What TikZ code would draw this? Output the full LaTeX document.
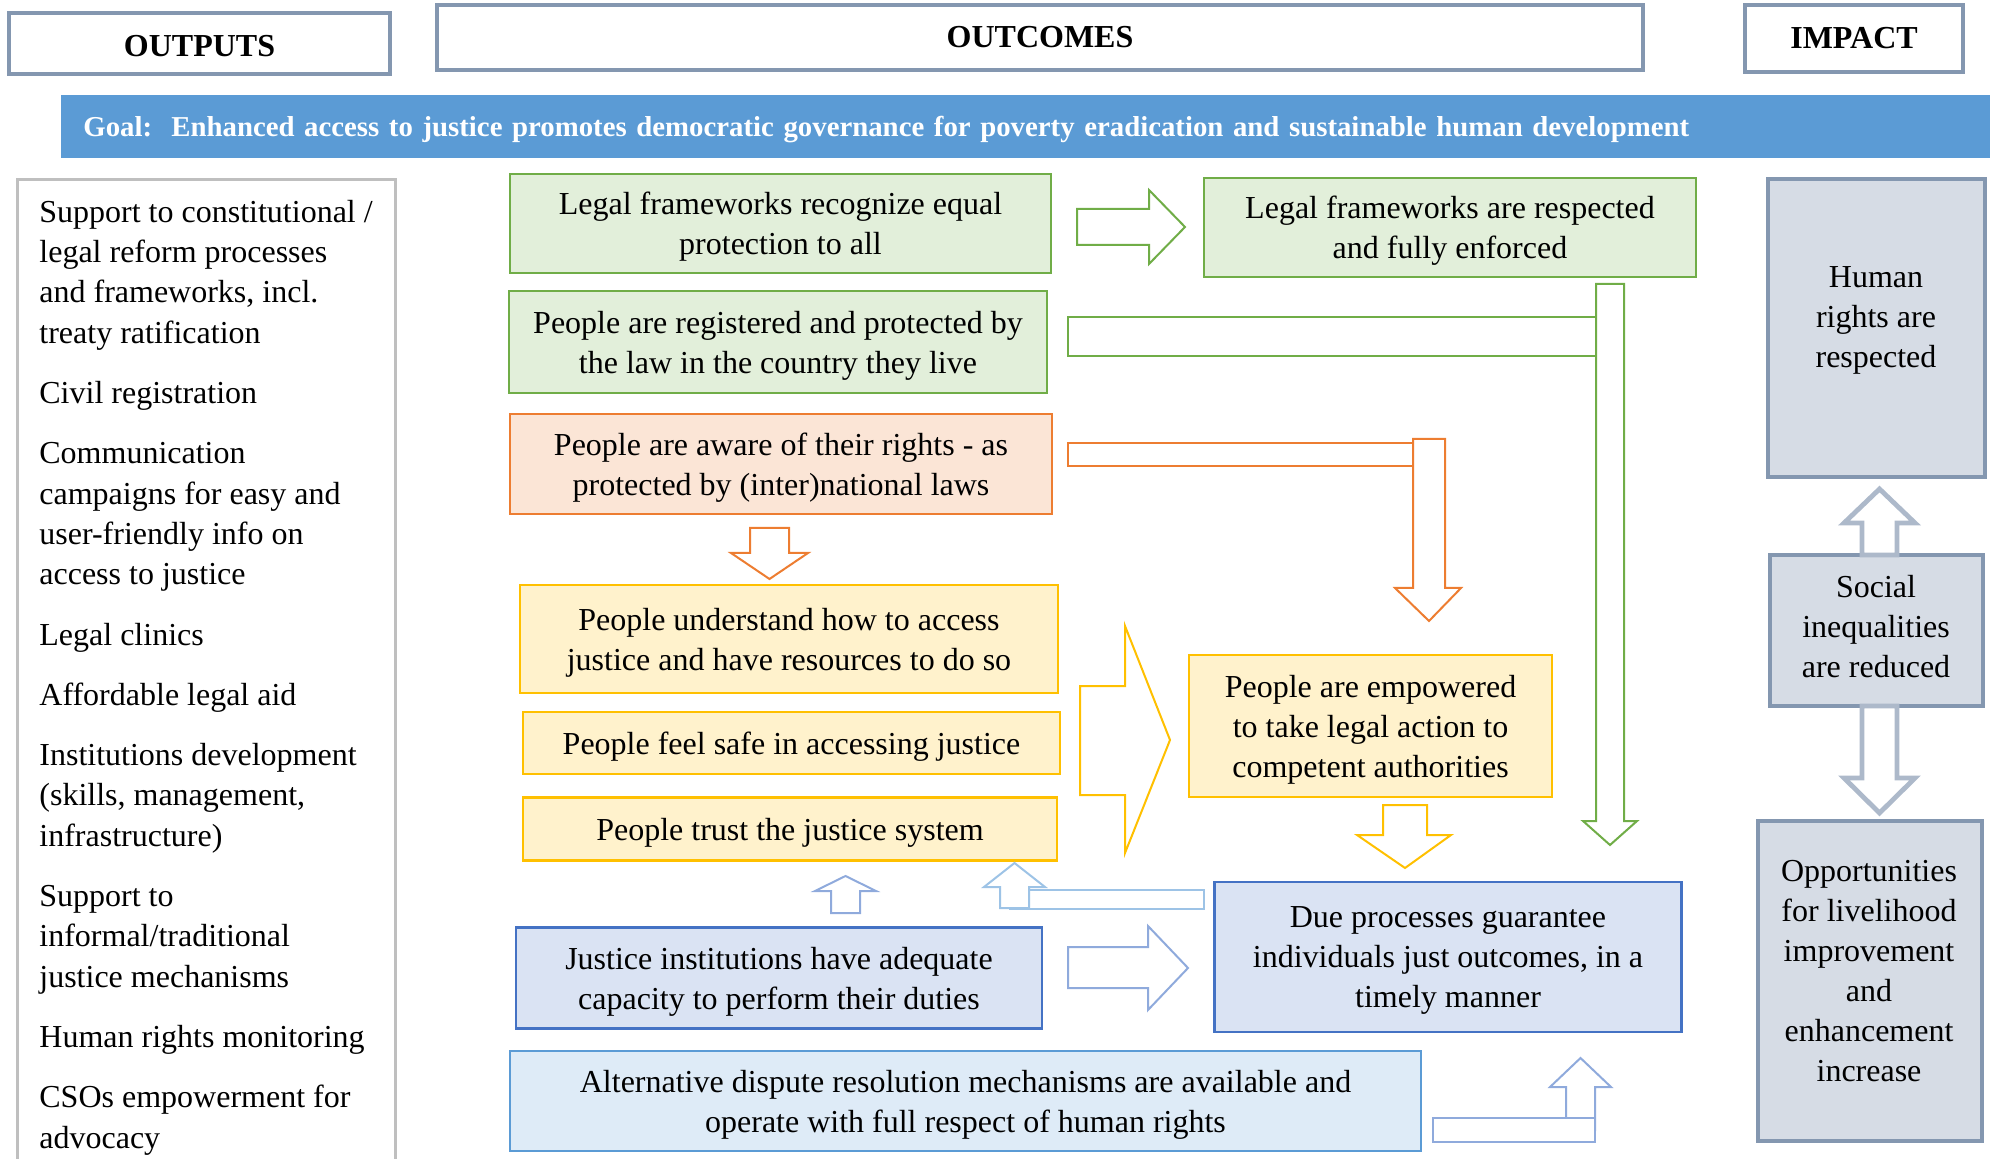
\documentclass[tikz,border=0pt]{standalone}
\usepackage{fontspec}
\setmainfont{Liberation Serif}
\definecolor{hdr}{HTML}{8497B0}
\definecolor{goalc}{HTML}{5B9BD5}
\definecolor{grnD}{HTML}{70AD47}
\definecolor{grnL}{HTML}{E2EFDA}
\definecolor{orD}{HTML}{ED7D31}
\definecolor{orL}{HTML}{FBE5D6}
\definecolor{ylD}{HTML}{FFC000}
\definecolor{ylL}{HTML}{FFF2CC}
\definecolor{blD}{HTML}{4472C4}
\definecolor{blL}{HTML}{DAE3F3}
\definecolor{lbD}{HTML}{5B9BD5}
\definecolor{lbL}{HTML}{DEEBF7}
\definecolor{arB}{HTML}{8FAADC}
\definecolor{arLB}{HTML}{9DC3E6}
\definecolor{impL}{HTML}{D6DCE5}
\definecolor{impA}{HTML}{ADB9CA}
\definecolor{panelc}{HTML}{BFBFBF}
\begin{document}
\begin{tikzpicture}[x=0.5pt,y=-0.5pt,
  txt/.style={font=\fontsize{16}{20}\selectfont},
  hdrbox/.style={draw=hdr, line width=1.6pt, fill=white, inner sep=0pt, font=\fontsize{16}{20}\selectfont\bfseries},
  hdrtext/.style={inner sep=0pt, font=\fontsize{16}{20}\selectfont\bfseries},
  cbox/.style={draw=#1, line width=1.4pt, align=center, inner sep=0pt, text depth=0pt, txt},
  gbox/.style={cbox=grnD, fill=grnL},
  obox/.style={cbox=orD, fill=orL, line width=1.1pt},
  ybox/.style={cbox=ylD, fill=ylL, line width=1.2pt},
  bbox/.style={cbox=blD, fill=blL, line width=1.2pt},
  lbox/.style={cbox=lbD, fill=lbL, line width=1.2pt},
  ibox/.style={draw=hdr, fill=impL, line width=2pt, inner sep=0pt},
  itext/.style={txt, align=center, inner sep=0pt, text depth=0pt},
  blk/.style={draw=#1, fill=white, line width=1pt, line join=miter},
  iblk/.style={draw=impA, fill=white, line width=2.4pt, line join=miter}]
\useasboundingbox (0,0) rectangle (1990,1159);
\clip (0,0) rectangle (1990,1159);

% headers
\node[hdrbox, minimum width=190.5pt, minimum height=30.5pt] (hout) at (199.5,43.5) {};
\node[hdrtext] (houtt) at (199.5,46) {OUTPUTS};
\node[hdrbox, minimum width=603pt, minimum height=32.5pt] (hoc) at (1040,37.5) {OUTCOMES};
\node[hdrbox, minimum width=109pt, minimum height=33.5pt] (himp) at (1854,38.5) {IMPACT};

% goal bar
\node[fill=goalc, anchor=west, minimum width=967pt, minimum height=31.5pt, inner xsep=11pt, inner ysep=0pt, text width=945pt, align=left, text=white, text depth=0pt, font=\fontsize{14.4}{18}\selectfont\bfseries] (goal) at (61,126.5) {Goal:\ \ Enhanced access to justice promotes democratic governance for poverty eradication and sustainable human development};

% outputs panel
\draw[draw=panelc, line width=1.5pt] (17,1180) -- (17,180) -- (395,180) -- (395,1180);
\node[font=\fontsize{16}{20.15}\selectfont, align=left, anchor=base west, inner sep=0pt] (outlist) at (39,1148) {Support to constitutional /\\legal reform processes\\and frameworks, incl.\\treaty ratification\\[10pt]Civil registration\\[10pt]Communication\\campaigns for easy and\\user-friendly info on\\access to justice\\[10pt]Legal clinics\\[10pt]Affordable legal aid\\[10pt]Institutions development\\(skills, management,\\infrastructure)\\[10pt]Support to\\informal/traditional\\justice mechanisms\\[10pt]Human rights monitoring\\[10pt]CSOs empowerment for\\advocacy};

% outcome boxes
\node[gbox, minimum width=270.5pt, minimum height=49.5pt] (b1) at (780.5,223.5) {Legal frameworks recognize equal\\protection to all};
\node[gbox, minimum width=246pt, minimum height=49.5pt] (b2) at (1450,227.5) {Legal frameworks are respected\\and fully enforced};
\node[gbox, minimum width=269pt, minimum height=51pt] (b3) at (778,342) {People are registered and protected by\\the law in the country they live};
\node[obox, minimum width=271pt, minimum height=50pt] (b4) at (781,464) {People are aware of their rights - as\\protected by (inter)national laws};
\node[ybox, minimum width=269pt, minimum height=54pt] (b5) at (789,639) {People understand how to access\\justice and have resources to do so};
\node[ybox, minimum width=268.5pt, minimum height=31pt] (b6) at (791.5,743) {People feel safe in accessing justice};
\node[ybox, minimum width=267pt, minimum height=31.5pt] (b7) at (790,829) {People trust the justice system};
\node[ybox, minimum width=181.5pt, minimum height=71pt] (b8) at (1370.5,726) {People are empowered\\to take legal action to\\competent authorities};
\node[bbox, minimum width=233.5pt, minimum height=75pt] (b9) at (1448,957) {Due processes guarantee\\individuals just outcomes, in a\\timely manner};
\node[bbox, minimum width=263pt, minimum height=50.5pt] (b10) at (779,978) {Justice institutions have adequate\\capacity to perform their duties};
\node[lbox, minimum width=455.5pt, minimum height=50pt] (b11) at (965.5,1101) {Alternative dispute resolution mechanisms are available and\\operate with full respect of human rights};

% impact boxes
\node[ibox, minimum width=108.5pt, minimum height=149pt] (i1) at (1876.5,328) {};
\node[itext] (i1t) at (1876,317) {Human\\rights are\\respected};
\node[ibox, minimum width=106.5pt, minimum height=75.5pt] (i2) at (1876.5,630.5) {};
\node[itext] (i2t) at (1876,626) {Social\\inequalities\\are reduced};
\node[ibox, minimum width=112pt, minimum height=160pt] (i3) at (1870,981) {};
\node[itext] (i3t) at (1869,971) {Opportunities\\for livelihood\\improvement\\and\\enhancement\\increase};

% block arrows
% A: b1 -> b2
\draw[blk=grnD] (1077,209) -- (1149,209) -- (1149,190) -- (1185,227) -- (1149,264) -- (1149,245) -- (1077,245) -- cycle;
% B: b3 -> (down) -> b9
\draw[blk=grnD] (1068,317) rectangle (1596,356);
\draw[blk=grnD] (1596,284) -- (1624,284) -- (1624,821) -- (1637,821) -- (1610,845) -- (1583,821) -- (1596,821) -- cycle;
% C: b4 -> b8
\draw[blk=orD] (1068,443) rectangle (1413,466);
\draw[blk=orD] (1413,439) -- (1445,439) -- (1445,588) -- (1461,588) -- (1429,621) -- (1395,588) -- (1413,588) -- cycle;
% D: b4 -> b5
\draw[blk=orD] (750,528) -- (789,528) -- (789,553) -- (808,553) -- (769.5,579) -- (731,553) -- (750,553) -- cycle;
% E: yellow group -> b8
\draw[blk=ylD] (1080,686) -- (1125,686) -- (1125,626) -- (1170,740) -- (1125,853) -- (1125,795) -- (1080,795) -- cycle;
% F: b8 -> b9
\draw[blk=ylD] (1383,805) -- (1427,805) -- (1427,835) -- (1451,835) -- (1405,868) -- (1357,835) -- (1383,835) -- cycle;
% G: b10 -> b7
\draw[blk=arB] (831,913) -- (860,913) -- (860,891) -- (876,891) -- (845.5,876) -- (815,891) -- (831,891) -- cycle;
% H: b9 -> b7
\draw[blk=arLB] (1010,890) rectangle (1204,909);
\draw[blk=arLB] (1000,908) -- (1029,908) -- (1029,887) -- (1045,887) -- (1014.5,863) -- (984,887) -- (1000,887) -- cycle;
% I: b10 -> b9
\draw[blk=arB] (1068,947) -- (1148,947) -- (1148,926) -- (1188,968) -- (1148,1010) -- (1148,988) -- (1068,988) -- cycle;
% J: b11 -> b9
\draw[blk=arB] (1566,1130) -- (1595,1130) -- (1595,1087) -- (1611,1087) -- (1580.5,1058) -- (1550,1087) -- (1566,1087) -- cycle;
\draw[blk=arB] (1433,1118) rectangle (1595,1142);
% impact arrows
\draw[iblk] (1862,555) -- (1897,555) -- (1897,523) -- (1915,523) -- (1879.5,489) -- (1844,523) -- (1862,523) -- cycle;
\draw[iblk] (1862,706) -- (1897,706) -- (1897,778) -- (1915,778) -- (1879.5,813) -- (1844,778) -- (1862,778) -- cycle;
\end{tikzpicture}
\end{document}
